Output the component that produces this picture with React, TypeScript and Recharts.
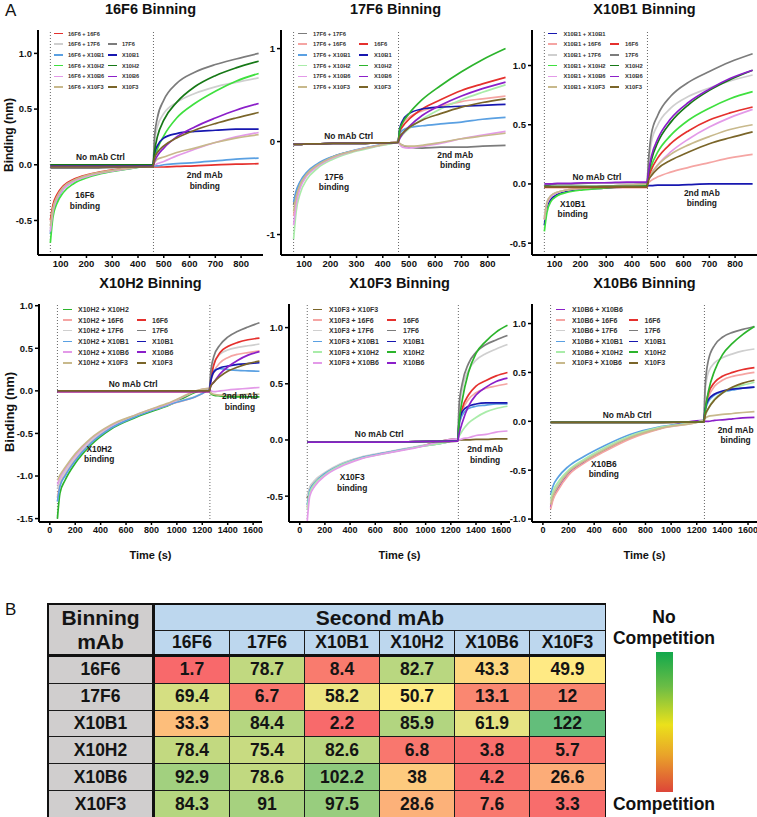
import { LineChart, Line, XAxis, YAxis, ReferenceLine, ReferenceDot } from 'recharts'

// time points (s): dissociation phase of the first mAb, then association of the 2nd mAb
const TOP_TIMES = [60, 70, 85, 110, 150, 210, 290, 380, 458, 464, 475, 500, 550, 620, 700, 780, 868]
const BOTTOM_TIMES = [60, 80, 120, 200, 320, 480, 680, 920, 1255, 1265, 1290, 1340, 1400, 1480, 1560, 1650]
const TOP_X_TICKS = [100, 200, 300, 400, 500, 600, 700, 800]
const BOTTOM_X_TICKS = [0, 200, 400, 600, 800, 1000, 1200, 1400, 1600]

const labels16F6 = ['16F6 + 16F6', '16F6 + 17F6', '16F6 + X10B1', '16F6 + X10H2', '16F6 + X10B6', '16F6 + X10F3', '17F6', 'X10B1', 'X10H2', 'X10B6', 'X10F3']
const values16F6 = [
  [-0.5, -0.36, -0.27, -0.19, -0.13, -0.085, -0.05, -0.02, 0, -0.02, -0.02, -0.02, -0.015, -0.01, 0, 0.005, 0.01],
  [-0.58, -0.41, -0.3, -0.21, -0.145, -0.095, -0.055, -0.025, 0, 0.2, 0.34, 0.46, 0.56, 0.64, 0.7, 0.74, 0.78],
  [-0.62, -0.43, -0.32, -0.22, -0.15, -0.1, -0.06, -0.03, 0, -0.01, -0.01, 0, 0.01, 0.02, 0.035, 0.05, 0.06],
  [-0.7, -0.47, -0.35, -0.25, -0.17, -0.11, -0.065, -0.03, 0, 0.06, 0.14, 0.26, 0.42, 0.55, 0.66, 0.75, 0.82],
  [-0.6, -0.42, -0.31, -0.22, -0.15, -0.1, -0.06, -0.028, 0, 0, 0.01, 0.03, 0.08, 0.14, 0.2, 0.25, 0.29],
  [-0.55, -0.39, -0.29, -0.2, -0.14, -0.09, -0.055, -0.025, 0, 0.02, 0.05, 0.07, 0.11, 0.15, 0.2, 0.24, 0.27],
  [-0.03, -0.03, -0.03, -0.03, -0.03, -0.03, -0.025, -0.02, -0.02, 0.25, 0.42, 0.58, 0.73, 0.83, 0.9, 0.95, 1.0],
  [-0.01, -0.01, -0.01, -0.01, -0.01, -0.01, -0.01, -0.01, -0.01, 0.1, 0.17, 0.24, 0.28, 0.3, 0.31, 0.32, 0.32],
  [0, 0, 0, 0, 0, 0, 0, 0, 0, 0.12, 0.25, 0.4, 0.56, 0.7, 0.8, 0.87, 0.93],
  [-0.015, -0.015, -0.015, -0.015, -0.015, -0.015, -0.015, -0.015, -0.015, 0.03, 0.08, 0.15, 0.25, 0.34, 0.42, 0.49, 0.55],
  [-0.02, -0.02, -0.02, -0.02, -0.02, -0.02, -0.02, -0.02, -0.02, 0.06, 0.11, 0.17, 0.24, 0.31, 0.37, 0.42, 0.47],
]

const labels17F6 = ['17F6 + 17F6', '17F6 + 16F6', '17F6 + X10B1', '17F6 + X10H2', '17F6 + X10B6', '17F6 + X10F3', '16F6', 'X10B1', 'X10H2', 'X10B6', 'X10F3']
const values17F6 = [
  [-0.68, -0.55, -0.44, -0.34, -0.25, -0.165, -0.1, -0.045, 0, -0.02, -0.04, -0.06, -0.07, -0.06, -0.06, -0.05, -0.04],
  [-0.8, -0.62, -0.48, -0.36, -0.26, -0.17, -0.1, -0.045, 0, 0.12, 0.19, 0.26, 0.33, 0.38, 0.43, 0.46, 0.49],
  [-0.65, -0.53, -0.43, -0.33, -0.24, -0.16, -0.095, -0.04, 0, 0.08, 0.12, 0.15, 0.17, 0.19, 0.21, 0.24, 0.26],
  [-1.05, -0.75, -0.56, -0.41, -0.29, -0.19, -0.11, -0.05, 0, 0.03, 0.07, 0.14, 0.24, 0.35, 0.45, 0.53, 0.61],
  [-0.9, -0.67, -0.5, -0.37, -0.27, -0.175, -0.1, -0.045, 0, -0.03, -0.06, -0.07, -0.05, -0.02, 0.03, 0.07, 0.11],
  [-0.75, -0.59, -0.46, -0.35, -0.255, -0.165, -0.1, -0.045, 0, -0.02, -0.04, -0.05, -0.04, -0.01, 0.03, 0.06, 0.09],
  [-0.03, -0.03, -0.03, -0.025, -0.025, -0.02, -0.02, -0.015, -0.01, 0.1, 0.16, 0.24, 0.35, 0.45, 0.55, 0.62, 0.69],
  [-0.03, -0.03, -0.03, -0.025, -0.025, -0.02, -0.02, -0.015, -0.01, 0.13, 0.22, 0.3, 0.35, 0.37, 0.38, 0.39, 0.4],
  [-0.03, -0.03, -0.03, -0.025, -0.025, -0.02, -0.02, -0.015, -0.01, 0.12, 0.2, 0.3, 0.45, 0.6, 0.75, 0.88, 1.0],
  [-0.03, -0.03, -0.03, -0.025, -0.025, -0.02, -0.02, -0.015, -0.01, 0.03, 0.08, 0.16, 0.28, 0.39, 0.49, 0.57, 0.64],
  [-0.03, -0.03, -0.03, -0.025, -0.025, -0.02, -0.02, -0.015, -0.01, 0.05, 0.09, 0.15, 0.23, 0.3, 0.37, 0.42, 0.46],
]

const labelsX10B1 = ['X10B1 + X10B1', 'X10B1 + 16F6', 'X10B1 + 17F6', 'X10B1 + X10H2', 'X10B1 + X10B6', 'X10B1 + X10F3', '16F6', '17F6', 'X10H2', 'X10B6', 'X10F3']
const valuesX10B1 = [
  [-0.35, -0.2, -0.13, -0.09, -0.06, -0.045, -0.035, -0.025, -0.02, -0.015, -0.015, -0.01, -0.01, -0.005, 0, 0, 0],
  [-0.3, -0.16, -0.1, -0.07, -0.05, -0.035, -0.02, -0.01, 0, 0.01, 0.03, 0.06, 0.1, 0.14, 0.18, 0.22, 0.25],
  [-0.28, -0.15, -0.1, -0.07, -0.05, -0.035, -0.02, -0.01, 0, 0.15, 0.35, 0.5, 0.64, 0.74, 0.81, 0.87, 0.92],
  [-0.4, -0.24, -0.15, -0.1, -0.07, -0.05, -0.035, -0.02, -0.01, 0.06, 0.15, 0.27, 0.41, 0.54, 0.64, 0.72, 0.78],
  [-0.3, -0.17, -0.11, -0.075, -0.05, -0.035, -0.02, -0.01, 0, 0.03, 0.08, 0.16, 0.27, 0.38, 0.48, 0.56, 0.63],
  [-0.3, -0.16, -0.1, -0.07, -0.05, -0.035, -0.02, -0.01, 0, 0.04, 0.09, 0.16, 0.25, 0.33, 0.4, 0.46, 0.5],
  [-0.03, -0.03, -0.03, -0.03, -0.03, -0.03, -0.03, -0.03, -0.03, 0.05, 0.12, 0.22, 0.34, 0.45, 0.54, 0.6, 0.65],
  [-0.01, -0.01, -0.005, 0, 0, 0.005, 0.01, 0.01, 0.01, 0.2, 0.42, 0.58, 0.74, 0.86, 0.95, 1.03, 1.1],
  [-0.02, -0.02, -0.02, -0.02, -0.02, -0.02, -0.02, -0.02, -0.02, 0.08, 0.2, 0.35, 0.52, 0.67, 0.79, 0.88, 0.96],
  [0, 0, 0, 0.005, 0.005, 0.01, 0.01, 0.015, 0.015, 0.1, 0.23, 0.38, 0.55, 0.69, 0.8, 0.89, 0.96],
  [-0.025, -0.025, -0.025, -0.025, -0.025, -0.025, -0.025, -0.025, -0.025, 0.03, 0.07, 0.13, 0.2, 0.27, 0.34, 0.39, 0.44],
]

const labelsX10H2 = ['X10H2 + X10H2', 'X10H2 + 16F6', 'X10H2 + 17F6', 'X10H2 + X10B1', 'X10H2 + X10B6', 'X10H2 + X10F3', '16F6', '17F6', 'X10B1', 'X10B6', 'X10F3']
const valuesX10H2 = [
  [-1.5, -1.2, -1.05, -0.85, -0.64, -0.45, -0.31, -0.18, 0.02, -0.03, -0.05, -0.06, -0.07, -0.07, -0.07, -0.07],
  [-1.25, -1.1, -0.98, -0.8, -0.6, -0.43, -0.29, -0.17, 0.02, 0.1, 0.22, 0.33, 0.39, 0.43, 0.45, 0.47],
  [-1.15, -1.05, -0.95, -0.78, -0.59, -0.42, -0.29, -0.16, 0.02, 0.15, 0.32, 0.43, 0.48, 0.51, 0.53, 0.55],
  [-1.3, -1.12, -1.0, -0.82, -0.62, -0.44, -0.3, -0.17, 0.02, 0.12, 0.24, 0.26, 0.25, 0.24, 0.235, 0.23],
  [-1.1, -1.02, -0.92, -0.76, -0.57, -0.41, -0.28, -0.16, 0.03, 0, -0.01, 0, 0.01, 0.02, 0.03, 0.04],
  [-1.05, -0.99, -0.9, -0.74, -0.56, -0.4, -0.28, -0.15, 0.03, -0.02, -0.04, -0.05, -0.05, -0.05, -0.04, -0.04],
  [-0.01, -0.01, -0.01, -0.01, -0.01, -0.01, -0.01, -0.01, -0.01, 0.12, 0.3, 0.45, 0.52, 0.57, 0.6, 0.62],
  [0, 0, 0, 0, 0, 0, 0, 0, 0, 0.2, 0.4, 0.54, 0.63, 0.7, 0.75, 0.8],
  [0, 0, 0, 0, 0, 0, 0, 0, 0, 0.1, 0.22, 0.27, 0.29, 0.31, 0.32, 0.33],
  [-0.01, -0.01, -0.01, -0.01, -0.01, -0.01, -0.01, -0.01, -0.01, 0.05, 0.1, 0.2, 0.28, 0.36, 0.42, 0.46],
  [0, 0, 0, 0, 0, 0, 0, 0, 0, 0.05, 0.1, 0.17, 0.23, 0.28, 0.32, 0.35],
]

const labelsX10F3 = ['X10F3 + X10F3', 'X10F3 + 16F6', 'X10F3 + 17F6', 'X10F3 + X10B1', 'X10F3 + X10H2', 'X10F3 + X10B6', '16F6', '17F6', 'X10B1', 'X10H2', 'X10B6']
const valuesX10F3 = [
  [-0.52, -0.43, -0.37, -0.3, -0.22, -0.16, -0.115, -0.065, 0.01, 0, 0, 0, 0.005, 0.005, 0.01, 0.01],
  [-0.6, -0.46, -0.38, -0.31, -0.23, -0.165, -0.115, -0.065, 0.01, 0.12, 0.25, 0.36, 0.42, 0.46, 0.48, 0.5],
  [-0.5, -0.42, -0.36, -0.29, -0.215, -0.155, -0.11, -0.06, 0.01, 0.25, 0.45, 0.62, 0.71, 0.77, 0.81, 0.85],
  [-0.58, -0.45, -0.38, -0.3, -0.225, -0.16, -0.115, -0.065, 0.01, 0.12, 0.22, 0.28, 0.3, 0.31, 0.32, 0.32],
  [-0.62, -0.47, -0.39, -0.31, -0.23, -0.165, -0.12, -0.065, 0.01, 0.03, 0.08, 0.15, 0.2, 0.25, 0.28, 0.3],
  [-0.72, -0.5, -0.41, -0.32, -0.24, -0.17, -0.12, -0.07, 0.01, 0, 0.01, 0.02, 0.04, 0.05, 0.07, 0.08],
  [-0.02, -0.02, -0.02, -0.02, -0.02, -0.02, -0.02, -0.015, -0.01, 0.15, 0.28, 0.4, 0.48, 0.53, 0.57, 0.6],
  [-0.02, -0.02, -0.02, -0.02, -0.02, -0.02, -0.02, -0.015, -0.01, 0.3, 0.5, 0.68, 0.78, 0.85, 0.89, 0.93],
  [-0.02, -0.02, -0.02, -0.02, -0.02, -0.02, -0.02, -0.015, -0.005, 0.15, 0.25, 0.3, 0.32, 0.33, 0.33, 0.33],
  [-0.02, -0.02, -0.02, -0.02, -0.02, -0.02, -0.02, -0.015, -0.01, 0.15, 0.35, 0.6, 0.77, 0.88, 0.96, 1.02],
  [-0.02, -0.02, -0.02, -0.02, -0.02, -0.02, -0.02, -0.015, -0.01, 0.05, 0.15, 0.3, 0.4, 0.47, 0.52, 0.55],
]

const labelsX10B6 = ['X10B6 + X10B6', 'X10B6 + 16F6', 'X10B6 + 17F6', 'X10B6 + X10B1', 'X10B6 + X10H2', 'X10F3 + X10B6', '16F6', '17F6', 'X10B1', 'X10H2', 'X10F3']
const valuesX10B6 = [
  [-0.88, -0.78, -0.68, -0.53, -0.42, -0.3, -0.17, -0.07, 0.01, 0, 0, 0.01, 0.015, 0.025, 0.035, 0.04],
  [-0.9, -0.8, -0.7, -0.55, -0.43, -0.31, -0.18, -0.075, 0.01, 0.1, 0.24, 0.36, 0.42, 0.46, 0.48, 0.5],
  [-0.82, -0.73, -0.64, -0.51, -0.4, -0.28, -0.16, -0.065, 0.01, 0.3, 0.5, 0.6, 0.65, 0.69, 0.72, 0.74],
  [-0.75, -0.66, -0.57, -0.46, -0.36, -0.25, -0.135, -0.055, 0.01, 0.1, 0.2, 0.27, 0.3, 0.32, 0.34, 0.35],
  [-0.8, -0.71, -0.62, -0.5, -0.39, -0.27, -0.15, -0.06, 0.01, 0.05, 0.13, 0.23, 0.29, 0.34, 0.37, 0.4],
  [-0.85, -0.76, -0.66, -0.52, -0.41, -0.29, -0.165, -0.07, 0.01, 0.03, 0.05, 0.06, 0.07, 0.08, 0.09, 0.1],
  [-0.01, -0.01, -0.01, -0.01, -0.01, -0.01, -0.01, -0.01, -0.005, 0.12, 0.28, 0.4, 0.46, 0.5, 0.53, 0.55],
  [-0.01, -0.01, -0.01, -0.01, -0.01, -0.01, -0.01, -0.01, -0.005, 0.35, 0.62, 0.78, 0.86, 0.91, 0.94, 0.97],
  [-0.01, -0.01, -0.01, -0.01, -0.01, -0.01, -0.01, -0.01, -0.005, 0.12, 0.22, 0.28, 0.31, 0.33, 0.34, 0.35],
  [-0.01, -0.01, -0.01, -0.01, -0.01, -0.01, -0.01, -0.01, -0.005, 0.1, 0.3, 0.52, 0.68, 0.8, 0.89, 0.97],
  [-0.01, -0.01, -0.01, -0.01, -0.01, -0.01, -0.01, -0.01, -0.005, 0.06, 0.13, 0.22, 0.29, 0.35, 0.39, 0.42],
]

// panel B: % binding of the second mAb
const binningMabs = ['16F6', '17F6', 'X10B1', 'X10H2', 'X10B6', 'X10F3']
const secondMabs = ['16F6', '17F6', 'X10B1', 'X10H2', 'X10B6', 'X10F3']
const competition = [
  [1.7, 78.7, 8.4, 82.7, 43.3, 49.9],
  [69.4, 6.7, 58.2, 50.7, 13.1, 12],
  [33.3, 84.4, 2.2, 85.9, 61.9, 122],
  [78.4, 75.4, 82.6, 6.8, 3.8, 5.7],
  [92.9, 78.6, 102.2, 38, 4.2, 26.6],
  [84.3, 91, 97.5, 28.6, 7.6, 3.3],
]

const FONT = 'Arial, "Liberation Sans", Helvetica, sans-serif'

const C = {
  red: '#e5302d',
  pink: '#f5a5a3',
  grey: '#7c7c7c',
  lgrey: '#cfcfcf',
  blue: '#1717b0',
  lblue: '#5aa0e2',
  dgreen: '#167816',
  green: '#2cb42c',
  bgreen: '#3fe03f',
  pgreen: '#a9eca9',
  purple: '#8b1fc9',
  violet: '#e39ae8',
  olive: '#7a6529',
  tan: '#c8b98c',
}

type Note = { x: number; y: number; lines: string[] }
type Spec = {
  title: string
  times: number[]
  labels: string[]
  values: number[][]
  colors: string[]
  left: number
  top: number
  width: number
  height: number
  xDomain: [number, number]
  xTicks: number[]
  xFont: number
  dividers: number[]
  yDomain: [number, number]
  yTicks: number[]
  yDecimals: number
  notes: Note[]
  legend: { dx: number; dy: number; textDx: number; colDx: number; font: number }
  timeLabel: boolean
}

const Y_W = 30
const TOP_PAD = 8

const NoteText = (props: any) => {
  const { viewBox, lines } = props
  const cx = viewBox.x + (viewBox.width || 0) / 2
  const cy = viewBox.y + (viewBox.height || 0) / 2
  const lh = 10.5
  const y0 = cy - ((lines.length - 1) * lh) / 2 + 3
  return (
    <text textAnchor="middle" fontSize={8.4} fontWeight={700} fill="#1a1a1a" fontFamily={FONT}>
      {lines.map((l: string, i: number) => (
        <tspan key={i} x={cx} y={y0 + i * lh}>
          {l}
        </tspan>
      ))}
    </text>
  )
}

function PanelLegend({ spec }: { spec: Spec }) {
  const { dx, dy, textDx, colDx, font } = spec.legend
  const rowH = 10.7
  const entry = (i: number, col: number, row: number) => (
    <div
      key={i}
      style={{
        position: 'absolute',
        left: Y_W + dx + col * colDx,
        top: TOP_PAD + dy + row * rowH - 5,
        height: 10,
        display: 'flex',
        alignItems: 'center',
        whiteSpace: 'nowrap',
      }}
    >
      <div style={{ width: 9, height: 1.6, background: spec.colors[i] }} />
      <div style={{ marginLeft: textDx - 9, fontSize: font, fontWeight: 700, color: '#333' }}>{spec.labels[i]}</div>
    </div>
  )
  return (
    <div style={{ position: 'absolute', left: 0, top: 0, pointerEvents: 'none' }}>
      {spec.labels.map((_, i) => (i < 6 ? entry(i, 0, i) : entry(i, 1, i - 5)))}
    </div>
  )
}

function Panel({ spec }: { spec: Spec }) {
  const data = spec.times.map((t, i) => {
    const row: Record<string, number> = { t }
    spec.values.forEach((vals, s) => {
      row['s' + s] = vals[i]
    })
    return row
  })
  const xH = spec.timeLabel ? 40 : 22
  return (
    <>
      <div
        style={{
          position: 'absolute',
          left: spec.left,
          width: spec.width,
          top: spec.top - 29,
          textAlign: 'center',
          fontSize: 14.5,
          fontWeight: 700,
          lineHeight: '16px',
          color: '#111',
        }}
      >
        {spec.title}
      </div>
      <div style={{ position: 'absolute', left: spec.left - Y_W, top: spec.top - TOP_PAD }}>
        <LineChart
          width={Y_W + spec.width + 2}
          height={spec.height + xH + TOP_PAD}
          data={data}
          margin={{ top: TOP_PAD, right: 2, bottom: 0, left: 0 }}
        >
          <XAxis
            type="number"
            dataKey="t"
            domain={spec.xDomain}
            ticks={spec.xTicks}
            interval={0}
            allowDataOverflow
            height={xH}
            tickSize={3}
            tick={{ fontSize: spec.xFont, fontWeight: 700, fill: '#111', fontFamily: FONT }}
            axisLine={{ stroke: '#000', strokeWidth: 2 }}
            tickLine={{ stroke: '#000', strokeWidth: 1.5 }}
            label={
              spec.timeLabel
                ? { value: 'Time (s)', position: 'insideBottom', offset: 3, fontSize: 11, fontWeight: 700, fill: '#111', fontFamily: FONT }
                : undefined
            }
          />
          <YAxis
            type="number"
            domain={spec.yDomain}
            ticks={spec.yTicks}
            interval={0}
            allowDataOverflow
            width={Y_W}
            tickSize={4}
            tickFormatter={(v: number) => v.toFixed(spec.yDecimals)}
            tick={{ fontSize: 9.5, fontWeight: 700, fill: '#111', fontFamily: FONT }}
            axisLine={{ stroke: '#000', strokeWidth: 2 }}
            tickLine={{ stroke: '#000', strokeWidth: 1.5 }}
          />
          {spec.dividers.map((d) => (
            <ReferenceLine key={d} x={d} stroke="#666" strokeWidth={1} strokeDasharray="1 2" />
          ))}
          {spec.values.map((_, i) => (
            <Line
              key={i}
              dataKey={'s' + i}
              type="monotone"
              stroke={spec.colors[i]}
              strokeWidth={1.7}
              dot={false}
              isAnimationActive={false}
            />
          ))}
          {spec.notes.map((n, i) => (
            <ReferenceDot
              key={'n' + i}
              x={n.x}
              y={n.y}
              r={0}
              fill="none"
              stroke="none"
              label={<NoteText lines={n.lines} />}
            />
          ))}
        </LineChart>
        <PanelLegend spec={spec} />
      </div>
    </>
  )
}

const topCommon = {
  times: TOP_TIMES,
  top: 30,
  height: 225,
  xDomain: [12, 885] as [number, number],
  xTicks: TOP_X_TICKS,
  xFont: 9.5,
  dividers: [60, 460],
  timeLabel: false,
}
const bottomCommon = {
  times: BOTTOM_TIMES,
  top: 304,
  height: 218,
  xDomain: [-85, 1670] as [number, number],
  xTicks: BOTTOM_X_TICKS,
  xFont: 9,
  dividers: [60, 1260],
  timeLabel: true,
}

const PANELS: Spec[] = [
  {
    ...topCommon,
    title: '16F6 Binning',
    labels: labels16F6,
    values: values16F6,
    colors: [C.red, C.lgrey, C.lblue, C.bgreen, C.violet, C.tan, C.grey, C.blue, C.dgreen, C.purple, C.olive],
    left: 38,
    width: 225,
    yDomain: [-0.81, 1.21],
    yTicks: [-0.5, 0, 0.5, 1],
    yDecimals: 1,
    notes: [
      { x: 254, y: 0.07, lines: ['No mAb Ctrl'] },
      { x: 194, y: -0.32, lines: ['16F6', 'binding'] },
      { x: 659, y: -0.14, lines: ['2nd mAb', 'binding'] },
    ],
    legend: { dx: 16, dy: 3.5, textDx: 14, colDx: 54, font: 5.6 },
  },
  {
    ...topCommon,
    title: '17F6 Binning',
    labels: labels17F6,
    values: values17F6,
    colors: [C.grey, C.pink, C.lblue, C.pgreen, C.violet, C.tan, C.red, C.blue, C.green, C.purple, C.olive],
    left: 281,
    width: 229,
    yDomain: [-1.22, 1.2],
    yTicks: [-1, 0, 1],
    yDecimals: 0,
    notes: [
      { x: 270, y: 0.065, lines: ['No mAb Ctrl'] },
      { x: 214, y: -0.435, lines: ['17F6', 'binding'] },
      { x: 676, y: -0.2, lines: ['2nd mAb', 'binding'] },
    ],
    legend: { dx: 17, dy: 3.5, textDx: 15, colDx: 61, font: 5.8 },
  },
  {
    ...topCommon,
    title: 'X10B1 Binning',
    labels: labelsX10B1,
    values: valuesX10B1,
    colors: [C.blue, C.pink, C.lgrey, C.bgreen, C.violet, C.tan, C.red, C.grey, C.dgreen, C.purple, C.olive],
    left: 532,
    width: 225,
    yDomain: [-0.6, 1.3],
    yTicks: [-0.5, 0, 0.5, 1],
    yDecimals: 1,
    notes: [
      { x: 264, y: 0.06, lines: ['No mAb Ctrl'] },
      { x: 170, y: -0.21, lines: ['X10B1', 'binding'] },
      { x: 671, y: -0.12, lines: ['2nd mAb', 'binding'] },
    ],
    legend: { dx: 16, dy: 3.5, textDx: 15.5, colDx: 61.5, font: 5.8 },
  },
  {
    ...bottomCommon,
    title: 'X10H2 Binning',
    labels: labelsX10H2,
    values: valuesX10H2,
    colors: [C.green, C.pink, C.lgrey, C.lblue, C.violet, C.tan, C.red, C.grey, C.blue, C.purple, C.olive],
    left: 39,
    width: 223,
    yDomain: [-1.54, 1.02],
    yTicks: [-1.5, -1, -0.5, 0, 0.5, 1],
    yDecimals: 1,
    notes: [
      { x: 656, y: 0.08, lines: ['No mAb Ctrl'] },
      { x: 389, y: -0.74, lines: ['X10H2', 'binding'] },
      { x: 1496, y: -0.125, lines: ['2nd mAb', 'binding'] },
    ],
    legend: { dx: 24, dy: 5.3, textDx: 15, colDx: 74, font: 7 },
  },
  {
    ...bottomCommon,
    title: 'X10F3 Binning',
    labels: labelsX10F3,
    values: valuesX10F3,
    colors: [C.olive, C.pink, C.lgrey, C.lblue, C.pgreen, C.violet, C.red, C.grey, C.blue, C.green, C.purple],
    left: 289,
    width: 221,
    yDomain: [-0.73, 1.21],
    yTicks: [-0.5, 0, 0.5, 1],
    yDecimals: 1,
    notes: [
      { x: 632, y: 0.054, lines: ['No mAb Ctrl'] },
      { x: 417, y: -0.38, lines: ['X10F3', 'binding'] },
      { x: 1472, y: -0.13, lines: ['2nd mAb', 'binding'] },
    ],
    legend: { dx: 24, dy: 5.3, textDx: 16, colDx: 74, font: 7 },
  },
  {
    ...bottomCommon,
    title: 'X10B6 Binning',
    labels: labelsX10B6,
    values: valuesX10B6,
    colors: [C.purple, C.pink, C.lgrey, C.lblue, C.pgreen, C.tan, C.red, C.grey, C.blue, C.green, C.olive],
    left: 532,
    width: 225,
    yDomain: [-1.03, 1.2],
    yTicks: [-1, -0.5, 0, 0.5, 1],
    yDecimals: 1,
    notes: [
      { x: 658, y: 0.06, lines: ['No mAb Ctrl'] },
      { x: 475, y: -0.49, lines: ['X10B6', 'binding'] },
      { x: 1503, y: -0.14, lines: ['2nd mAb', 'binding'] },
    ],
    legend: { dx: 24, dy: 5.3, textDx: 16, colDx: 72.5, font: 7 },
  },
]

// Excel-like 3 colour scale: red (min) - yellow (median) - green (max)
const allValues = competition.flat().slice().sort((a, b) => a - b)
const vMin = allValues[0]
const vMax = allValues[allValues.length - 1]
const vMid = (allValues[17] + allValues[18]) / 2
const LOW = [248, 105, 107]
const MID = [255, 235, 132]
const HIGH = [99, 190, 123]
function heat(v: number) {
  const mix = (a: number[], b: number[], f: number) =>
    `rgb(${a.map((c, i) => Math.round(c + (b[i] - c) * f)).join(',')})`
  if (v <= vMid) return mix(LOW, MID, (v - vMin) / (vMid - vMin))
  return mix(MID, HIGH, (v - vMid) / (vMax - vMid))
}

function CompetitionTable() {
  const rowH = [26, 26, 26.8, 26.8, 26.8, 26.8, 26.8, 26.8]
  const thin = '1px solid #1a1a1a'
  const thick = '3px solid #111'
  const base = {
    display: 'flex',
    alignItems: 'center',
    justifyContent: 'center',
    fontWeight: 700,
    color: '#141414',
    boxSizing: 'border-box' as const,
    borderRight: thin,
    borderBottom: thin,
  }
  return (
    <div
      style={{
        position: 'absolute',
        left: 47,
        top: 603,
        display: 'grid',
        gridTemplateColumns: `106px repeat(6, 75px)`,
        gridTemplateRows: rowH.map((h) => h + 'px').join(' '),
        border: '2.5px solid #111',
        boxSizing: 'border-box',
        width: 559,
      }}
    >
      <div
        style={{
          ...base,
          gridRow: '1 / span 2',
          gridColumn: '1',
          background: '#d0cece',
          fontSize: 21,
          lineHeight: '24px',
          flexDirection: 'column',
          borderRight: thick,
          borderBottom: thick,
        }}
      >
        <div>Binning</div>
        <div>mAb</div>
      </div>
      <div style={{ ...base, gridRow: '1', gridColumn: '2 / span 6', background: '#bdd7ee', fontSize: 21, borderRight: 'none' }}>
        Second mAb
      </div>
      {secondMabs.map((m, j) => (
        <div
          key={m}
          style={{
            ...base,
            gridRow: '2',
            gridColumn: String(j + 2),
            background: '#bdd7ee',
            fontSize: 17.5,
            borderBottom: thick,
            borderRight: j === 5 ? 'none' : thin,
          }}
        >
          {m}
        </div>
      ))}
      {binningMabs.map((b, i) => [
        <div
          key={b}
          style={{
            ...base,
            gridRow: String(i + 3),
            gridColumn: '1',
            background: '#d0cece',
            fontSize: 17.5,
            borderRight: thick,
            borderBottom: i === 5 ? 'none' : thin,
          }}
        >
          {b}
        </div>,
        ...competition[i].map((v, j) => (
          <div
            key={b + j}
            style={{
              ...base,
              gridRow: String(i + 3),
              gridColumn: String(j + 2),
              background: heat(v),
              fontSize: 17.5,
              borderRight: j === 5 ? 'none' : thin,
              borderBottom: i === 5 ? 'none' : thin,
            }}
          >
            {v}
          </div>
        )),
      ])}
    </div>
  )
}

export default function App() {
  return (
    <div
      style={{
        position: 'absolute',
        left: 0,
        top: 0,
        width: 757,
        height: 817,
        overflow: 'hidden',
        background: '#fff',
        fontFamily: FONT,
      }}
    >
      <div style={{ position: 'absolute', left: 5, top: 1, fontSize: 17, color: '#111' }}>A</div>
      <div style={{ position: 'absolute', left: 5, top: 600, fontSize: 17, color: '#111' }}>B</div>
      {[135, 412].map((cy, k) => (
        <div
          key={cy}
          style={{
            position: 'absolute',
            left: 9,
            top: cy,
            transform: 'translate(-50%, -50%) rotate(-90deg)',
            whiteSpace: 'nowrap',
            fontSize: k === 0 ? 12 : 13,
            fontWeight: 700,
            color: '#111',
          }}
        >
          Binding (nm)
        </div>
      ))}
      {PANELS.map((p) => (
        <Panel key={p.title} spec={p} />
      ))}
      <CompetitionTable />
      <div
        style={{
          position: 'absolute',
          left: 594,
          width: 140,
          top: 607,
          textAlign: 'center',
          fontSize: 17.5,
          fontWeight: 700,
          lineHeight: '21px',
          color: '#111',
        }}
      >
        No
        <br />
        Competition
      </div>
      <div
        style={{
          position: 'absolute',
          left: 656,
          top: 652,
          width: 17,
          height: 140,
          background: 'linear-gradient(to bottom, #12a84c 0%, #6cbd45 25%, #ebe11b 52%, #e9a22a 74%, #dd4539 100%)',
        }}
      />
      <div
        style={{
          position: 'absolute',
          left: 594,
          width: 140,
          top: 794,
          textAlign: 'center',
          fontSize: 17.5,
          fontWeight: 700,
          lineHeight: '21px',
          color: '#111',
        }}
      >
        Competition
      </div>
    </div>
  )
}
